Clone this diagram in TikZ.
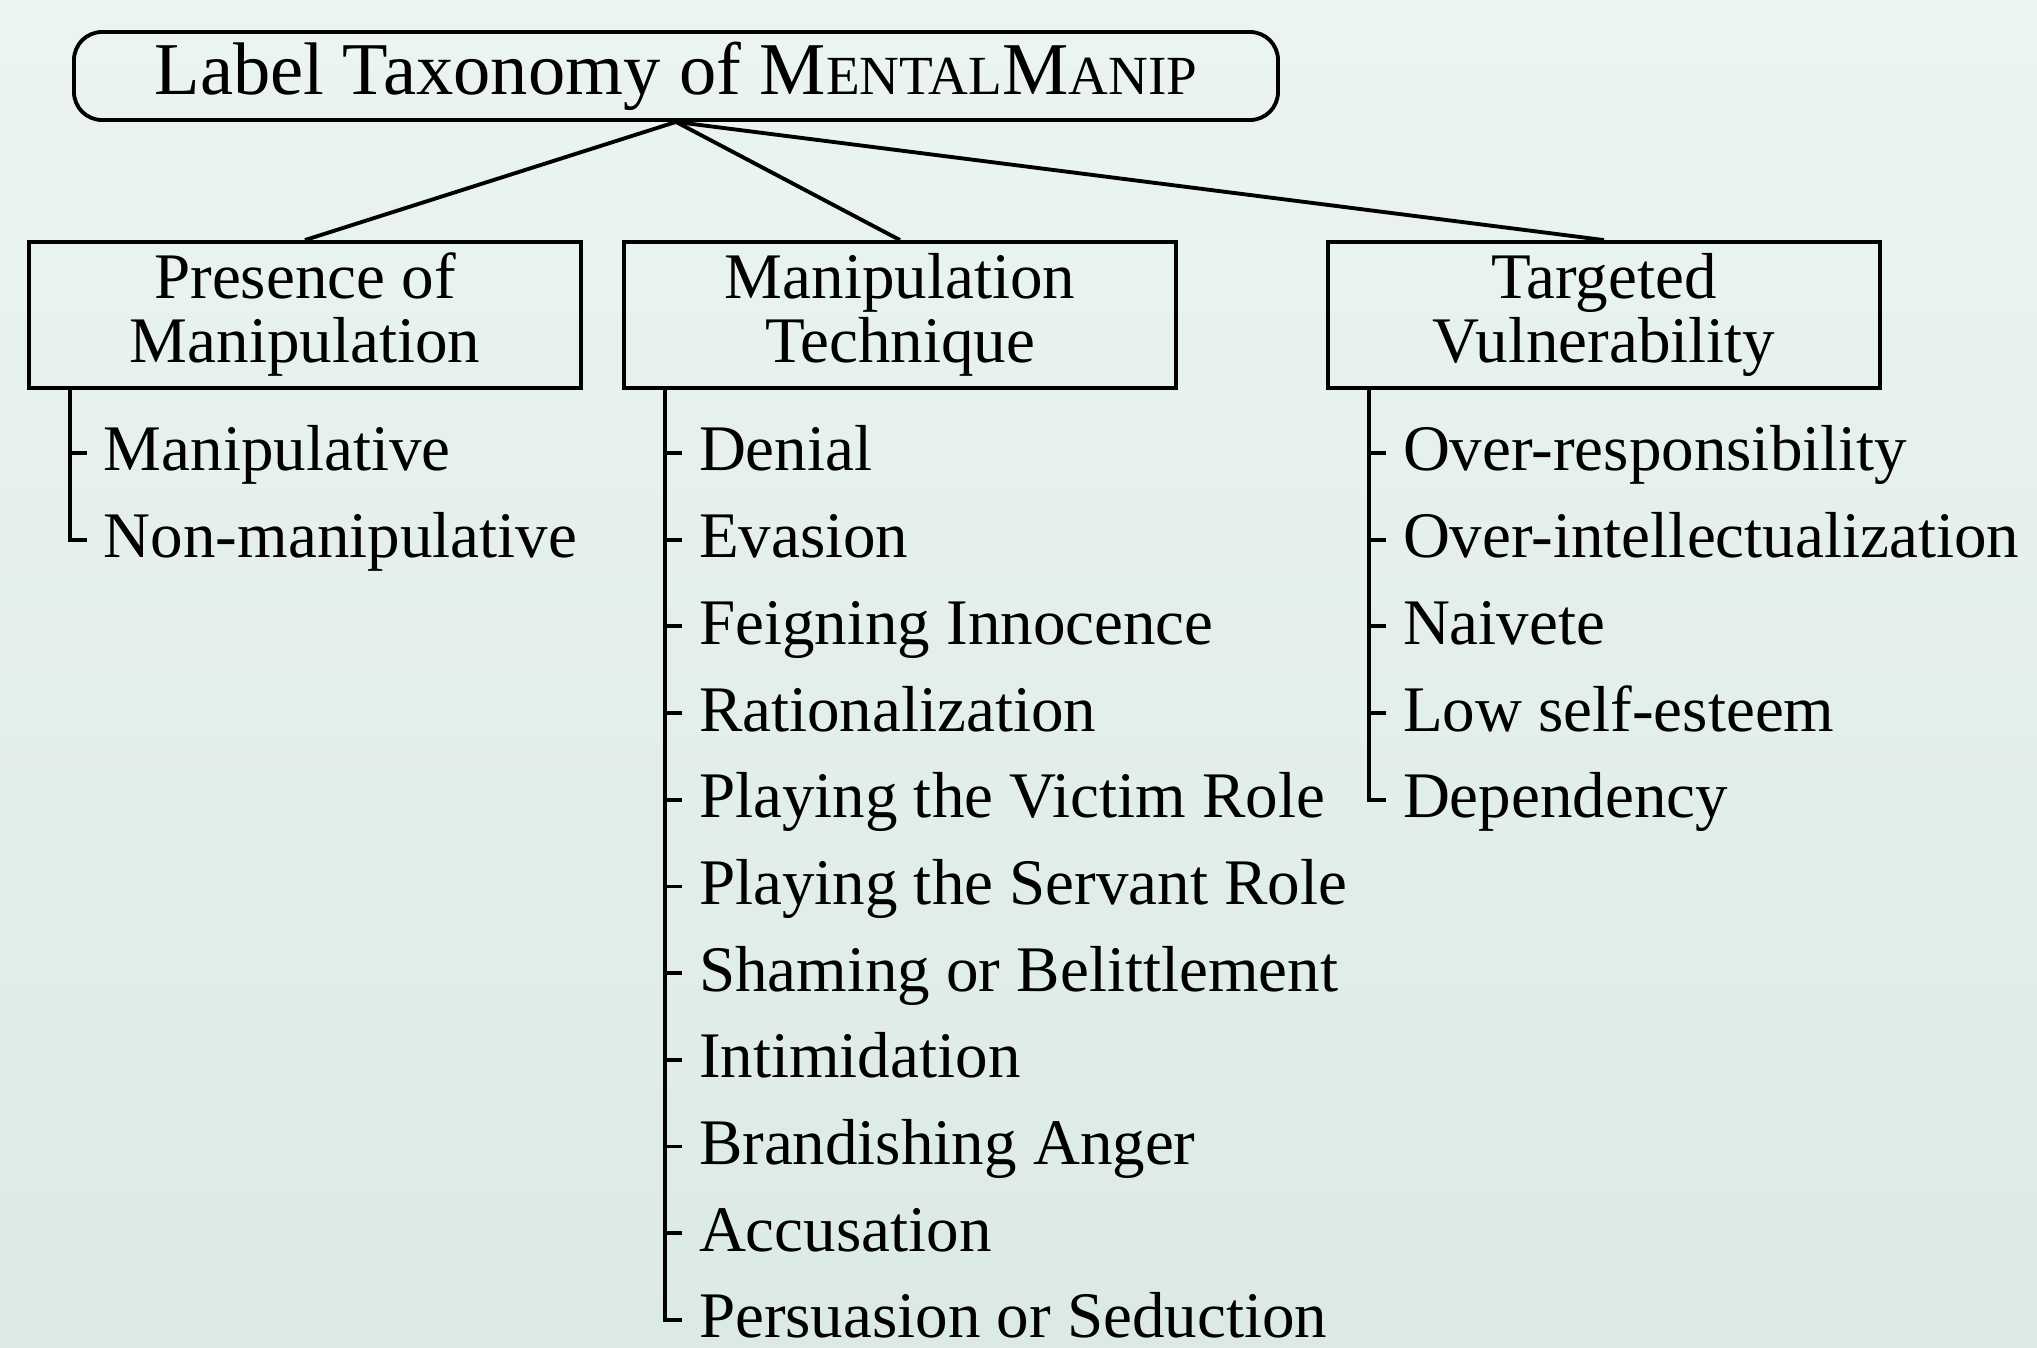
\documentclass[tikz,border=0pt]{standalone}
\usepackage{fontspec}
\setmainfont{Liberation Serif}
\usetikzlibrary{positioning,calc}
\definecolor{bgtop}{RGB}{235,244,241}
\definecolor{bgbot}{RGB}{220,234,228}
\newcommand{\fakesc}[1]{{\fontsize{15.7}{15.7}\selectfont #1}}

\begin{document}
\begin{tikzpicture}[line width=1.1pt, font=\fontsize{18.5}{18.2}\selectfont]
    \tikzset{rootbox/.style={rectangle, rounded corners=0.28cm, draw, minimum width=12.04cm,
      minimum height=0.88cm, inner sep=0pt, font=\fontsize{21.2}{22}\selectfont}}
    \tikzset{catbox/.style={rectangle, draw, minimum width=5.52cm, minimum height=1.46cm,
      inner sep=0pt, align=center}}
    \tikzset{leaf/.style={anchor=west, inner xsep=0.15cm, inner ysep=0pt,
      text height=0.36cm, text depth=0pt}}

    % Background
    \fill[top color=bgtop, bottom color=bgbot] (0,0) rectangle (20.37,-13.48);
    \useasboundingbox (0,0) rectangle (20.37,-13.48);

    % Root
    \node[rootbox] (root) at (6.76,-0.76) {Label Taxonomy of M\fakesc{ENTAL}M\fakesc{ANIP}};

    % Categories
    \node[catbox] (pres) at (3.05,-3.15)  {Presence of\\Manipulation};
    \node[catbox] (tech) at (9.00,-3.15)  {Manipulation\\Technique};
    \node[catbox] (vuln) at (16.04,-3.15) {Targeted\\Vulnerability};

    \foreach \c in {pres, tech, vuln}{
      \draw (root.south) -- (\c.north);
    }

    % Stems
    \coordinate (spres) at ($(pres.south west)+(0.43,0)$);
    \coordinate (stech) at ($(tech.south west)+(0.43,0)$);
    \coordinate (svuln) at ($(vuln.south west)+(0.43,0)$);

    % Leaves
    \foreach \txt [count=\i] in {Manipulative, Non-manipulative}{
      \node[leaf] (p\i) at ($(spres)+(0.17,{-0.63-0.867*(\i-1)})$) {\txt};
      \draw (spres) |- (p\i.west);
    }
    \foreach \txt [count=\i] in {Denial, Evasion, Feigning Innocence, Rationalization,
        Playing the Victim Role, Playing the Servant Role, Shaming or Belittlement,
        Intimidation, Brandishing Anger, Accusation, Persuasion or Seduction}{
      \node[leaf] (t\i) at ($(stech)+(0.17,{-0.63-0.867*(\i-1)})$) {\txt};
      \draw (stech) |- (t\i.west);
    }
    \foreach \txt [count=\i] in {Over-responsibility, Over-intellectualization, Naivete,
        Low self-esteem, Dependency}{
      \node[leaf] (v\i) at ($(svuln)+(0.17,{-0.63-0.867*(\i-1)})$) {\txt};
      \draw (svuln) |- (v\i.west);
    }
  \end{tikzpicture}
\end{document}
